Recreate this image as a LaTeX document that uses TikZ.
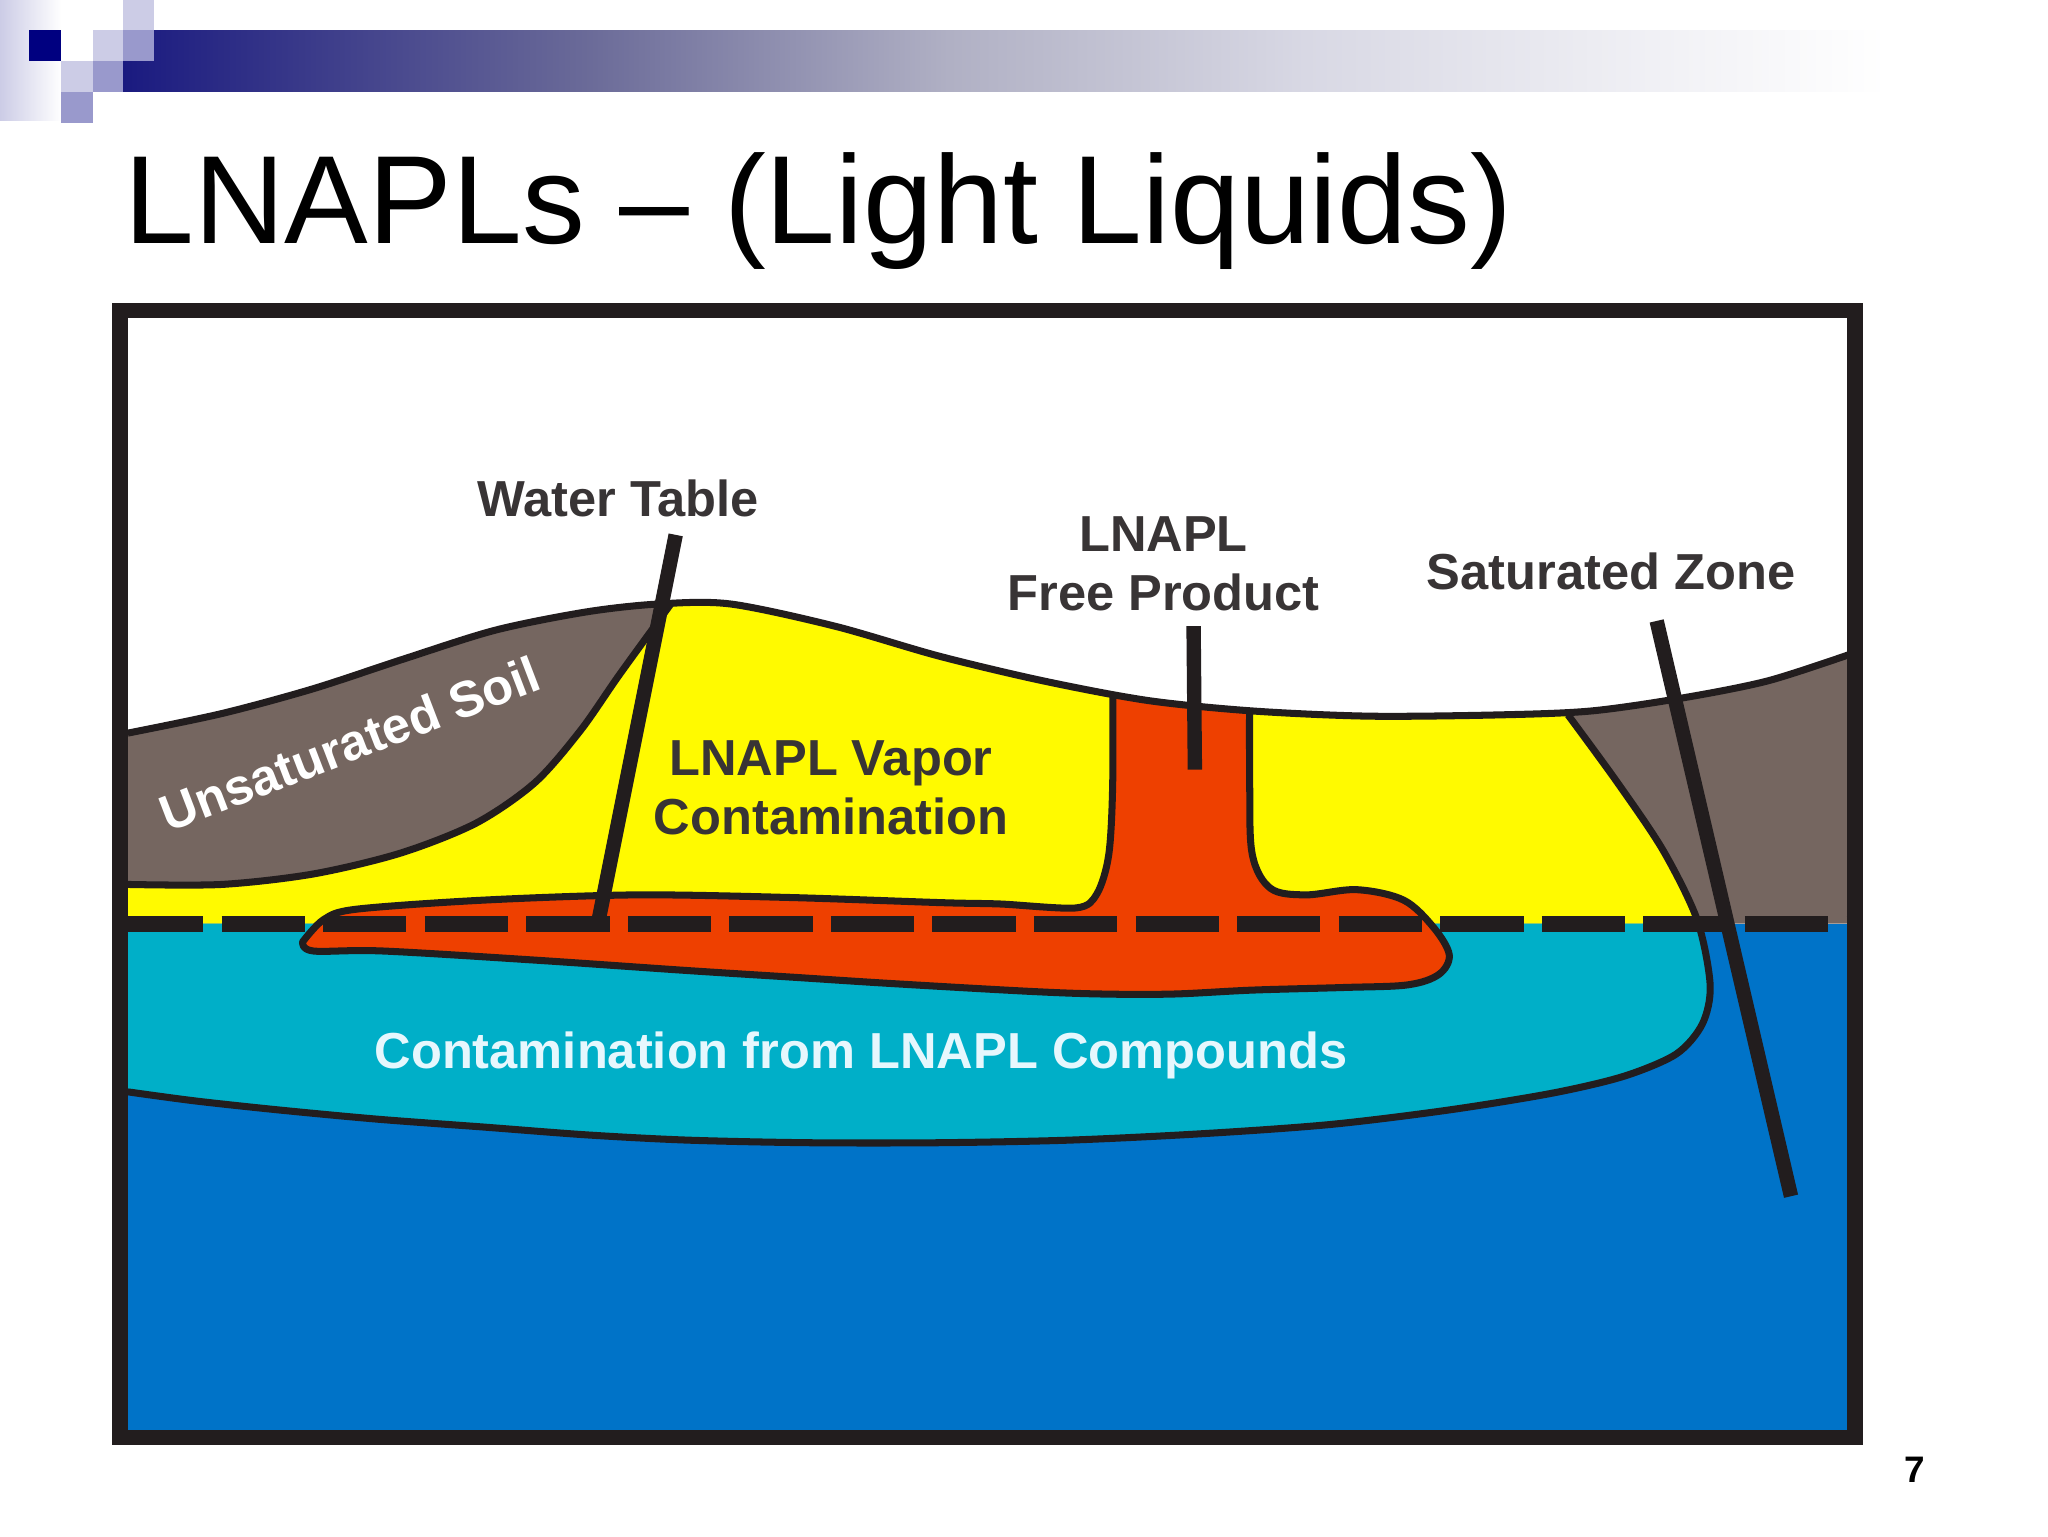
\documentclass[tikz,border=0pt]{standalone}
\usepackage{fontspec}
\setmainfont{Liberation Sans}
\definecolor{soilc}{HTML}{756660}
\definecolor{yelc}{HTML}{FFFA00}
\definecolor{redc}{HTML}{EE4000}
\definecolor{cyanc}{HTML}{00AFC8}
\definecolor{bluec}{HTML}{0073C8}
\definecolor{inkc}{HTML}{221D1E}
\definecolor{navyc}{HTML}{000080}
\definecolor{midc}{HTML}{9999CC}
\definecolor{palec}{HTML}{CCCCE6}
\definecolor{barA}{HTML}{1A1A80}
\definecolor{barB}{HTML}{6A6A98}
\definecolor{barC}{HTML}{B0B0C4}
\definecolor{barD}{HTML}{D8D8E4}
\definecolor{barE}{HTML}{F2F2F6}
\pgfdeclarehorizontalshading{barshade}{100bp}{
  color(0bp)=(barA);
  color(25bp)=(barA);
  color(37.3bp)=(barB);
  color(47bp)=(barC);
  color(56.5bp)=(barD);
  color(66.5bp)=(barE);
  color(72bp)=(white);
  color(100bp)=(white)}
\tikzset{
  outline/.style={draw=inkc,line width=2pt,line join=round},
  pointer/.style={draw=inkc,line width=4.1pt},
  darklabel/.style={inner sep=0pt,text=inkc!90!white,font=\bfseries\fontsize{14.4}{16.9}\selectfont,align=center},
  lightlabel/.style={inner sep=0pt,text=white,font=\bfseries\fontsize{14.4}{16.9}\selectfont,align=center}
}
\newcommand{\surfacecurve}{plot[smooth] coordinates {(98,562) (170,547) (240,528) (310,505) (380,483) (450,469) (505,463) (560,463) (640,480) (720,503) (800,522) (880,537) (960,545) (1050,549) (1150,548) (1220,545) (1290,535) (1355,522) (1417,502)}}
\newcommand{\soilcurve}{plot[smooth] coordinates {(98,678) (170,678) (240,670) (307,654) (365,631) (410,600) (445,560) (475,517) (515,462)}}
\newcommand{\plumecurve}{plot[smooth] coordinates {(1202,548) (1240,600) (1275,652) (1301,705) (1311,755) (1305,785) (1285,808) (1245,825) (1190,838) (1110,851) (1020,862) (923,869) (820,874) (720,876) (620,876) (527,874) (450,870) (371,864) (290,858) (215,851) (150,844) (98,837)}}
\begin{document}
\begin{tikzpicture}[x=0.0130446cm,y=-0.0130446cm]
\useasboundingbox (0,0) rectangle (1570,1177.5);
% slide decoration
\shade[left color=palec,right color=white] (0,0) rectangle (47,92);
\shade[shading=barshade] (94,23) rectangle (1533,70.5);
\fill[white] (94,0) rectangle (118,23);
\fill[navyc] (22.5,23) rectangle (47,46.5);
\fill[palec] (71,23) rectangle (94,46.5);
\fill[midc] (94,23) rectangle (118,46.5);
\fill[palec] (94,0) rectangle (118,23);
\fill[palec] (47,46.5) rectangle (71,70.5);
\fill[midc] (71,46.5) rectangle (94,70.5);
\fill[midc] (47,70.5) rectangle (71,94);
\node[anchor=base west,inner sep=0pt,font=\fontsize{35.7}{40}\selectfont] (title) at (95,186.5) {LNAPLs – (Light Liquids)};
% water
\fill[bluec] (92,708) rectangle (1422,1100);
% ground above the water table
\fill[soilc] \surfacecurve -- (1417,708) -- (98,708) -- cycle;
\begin{scope}
\clip \surfacecurve -- (1417,708) -- (98,708) -- cycle;
\fill[yelc] \soilcurve -- (530,430) -- (1170,430) -- (1202,548) -- plot[smooth] coordinates {(1202,548) (1240,600) (1275,652) (1302,708)} -- (98,708) -- cycle;
\draw[outline] \soilcurve;
\end{scope}
% dissolved plume
\fill[cyanc] (98,708) -- (1302,708) -- plot[smooth] coordinates {(1302,708) (1311,755) (1305,785) (1285,808) (1245,825) (1190,838) (1110,851) (1020,862) (923,869) (820,874) (720,876) (620,876) (527,874) (450,870) (371,864) (290,858) (215,851) (150,844) (98,837)} -- cycle;
\draw[outline] \plumecurve;
% free product
\begin{scope}
\clip (200,0) rectangle (1200,1000);
\clip \surfacecurve -- (1417,1000) -- (98,1000) -- cycle;
\draw[outline,fill=redc] plot[smooth,tension=0.5] coordinates {(232,722) (248,705) (273,697) (371,690) (488,686) (605,688) (723,692) (767,693) (825,696) (841,685) (850,655) (853,600) (853,500)} -- (958,500) -- plot[smooth,tension=0.55] coordinates {(958,500) (958,600) (960,655) (974,681) (1001,686) (1040,682) (1076,690) (1099,711) (1111,732) (1103,747) (1079,755) (1030,757) (960,759) (900,762) (845,762) (790,760) (684,754) (606,749) (527,744) (410,736) (293,729) (240,729) (232,722)} -- cycle;
\end{scope}
% surface line
\draw[outline] \surfacecurve;
% water table dashes
\coordinate (wtl) at (92,708.5);
\coordinate (wtr) at (1417,708.5);
\draw[draw=inkc,line width=4.5pt,dash pattern=on 23.7pt off 5.2pt] (wtl) -- (wtr);
% frame
\draw[draw=inkc,line width=4.4pt] (92,238) rectangle (1422,1102);
% pointers
\coordinate (wp1) at (518,410); \coordinate (wp2) at (458,710);
\coordinate (fp1) at (915,480); \coordinate (fp2) at (916,590);
\coordinate (sp1) at (1270,476); \coordinate (sp2) at (1373,917);
\draw[pointer] (wp1) -- (wp2);
\draw[pointer] (fp1) -- (fp2);
\draw[pointer] (sp1) -- (sp2);
% labels
\node[darklabel] (wt) at (474,382) {Water Table};
\node[darklabel] (lf) at (892,432) {LNAPL\\Free Product};
\node[darklabel] (sz) at (1235,438) {Saturated Zone};
\node[darklabel] (lv) at (637,604) {LNAPL Vapor\\Contamination};
\node[lightlabel,rotate=21] (us) at (268,570) {Unsaturated Soil};
\node[lightlabel,text=white!90!cyan] (cf) at (660,809) {Contamination from LNAPL Compounds};
\node[inner sep=0pt,font=\bfseries\fontsize{10.5}{12}\selectfont] (pg) at (1468,1127) {7};
\end{tikzpicture}
\end{document}
